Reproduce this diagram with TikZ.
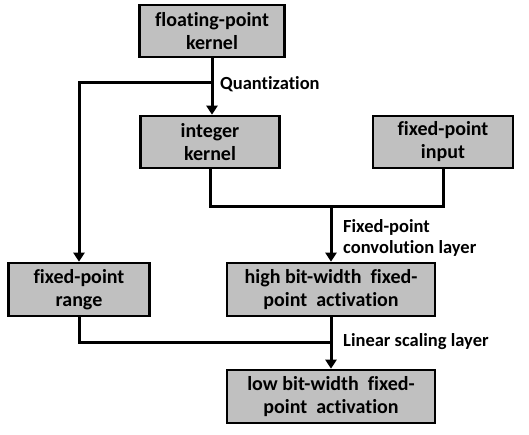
\documentclass[tikz,border=0pt]{standalone}
\usepackage{fontspec}
\setmainfont{Carlito}[Ligatures=NoCommon]
\usetikzlibrary{arrows.meta}
\begin{document}
\begin{tikzpicture}[x=1pt,y=-1pt,
  box/.style={draw=black,line width=2.6pt,fill={rgb,255:red,192;green,192;blue,192},align=center,font=\fontsize{20}{23}\selectfont\bfseries,inner sep=0pt},
  conn/.style={line width=3pt},
  arr/.style={conn,-{Triangle[length=9pt,width=11pt]}},
  lbl/.style={anchor=west,font=\fontsize{18.5}{21}\selectfont\bfseries,align=left,inner sep=0pt}]
\useasboundingbox (0,0) rectangle (529,435);
\node[box,minimum width=145pt,minimum height=52pt] (fk) at (212,31) {floating-point\\kernel};
\node[box,minimum width=139pt,minimum height=52pt] (ik) at (210,142) {integer\\kernel};
\node[box,minimum width=140pt,minimum height=52pt] (fi) at (443,142) {fixed-point\\input};
\node[box,minimum width=141pt,minimum height=53pt] (fr) at (79,289.5) {fixed-point\\range};
\node[box,minimum width=208pt,minimum height=53pt] (hb) at (331,289.5) {high bit-width\ \ fixed-\\point\ \ activation};
\node[box,minimum width=208pt,minimum height=53pt] (lb) at (331,396.5) {low bit-width\ \ fixed-\\point\ \ activation};
\coordinate (b1) at (212,83);
\coordinate (j1) at (331,207);
\coordinate (j2) at (331,342);
\draw[arr] (fk.south) -- (fk.south |- ik.north);
\draw[arr] (b1) -| (fr.north);
\draw[conn] (ik.south) |- (j1) -| (fi.south);
\draw[arr] (j1) -- (hb.north);
\draw[arr] (hb.south) -- (lb.north);
\draw[conn] (fr.south) |- (j2);
\node[lbl] (q) at (220,84) {Quantization};
\node[lbl] (fc) at (343,237.5) {Fixed-point\\convolution layer};
\node[lbl] (ls) at (343,342) {Linear scaling layer};
\end{tikzpicture}
\end{document}
